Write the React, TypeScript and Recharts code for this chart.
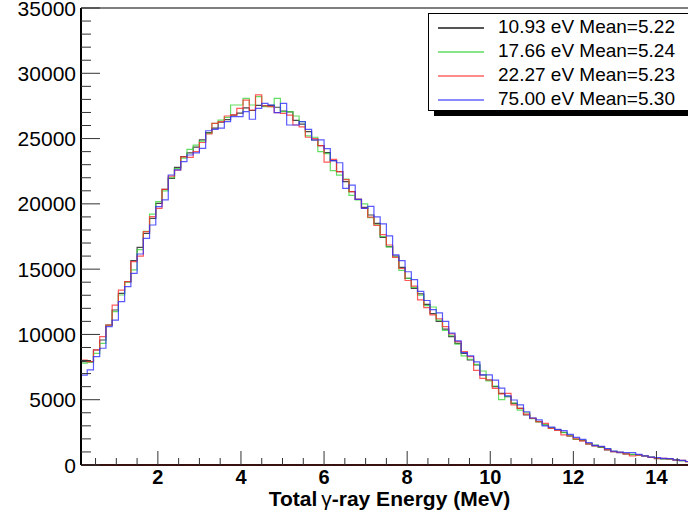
import { LineChart, Line, XAxis, YAxis, ReferenceLine } from "recharts";

// histogram binning: 0.15 MeV wide bins, first shown edge at 0.15 MeV
const BIN_WIDTH = 0.15;
const FIRST_EDGE = 0.15;
const X_MAX = 15;

// counts per bin
const counts1093 = [
  7915, 7915, 8808, 9574, 10723, 11872, 13148, 14042, 15650, 16670,
  17743, 18892, 20041, 21113, 21956, 22797, 23615, 23900, 24350, 24900,
  25450, 25800, 26250, 26450, 26800, 26950, 27350, 27150, 27550, 27500,
  27550, 27400, 27100, 27050, 26400, 26100, 25530, 24892, 24458, 23922,
  23309, 22466, 21700, 20934, 20347, 19734, 19148, 18510, 17438, 16722,
  16007, 15139, 14297, 13531, 13100, 12300, 11600, 11000, 10400, 9829,
  9319, 8553, 8042, 7659, 6893, 6510, 5999, 5489, 5233, 4723,
  4340, 3830, 3574, 3319, 3064, 2850, 2680, 2500, 2221, 1966,
  1864, 1608, 1455, 1353, 1149, 1021, 945, 843, 800, 766,
  689, 587, 485, 470, 460, 383, 332, 255, 230,
];

const counts1766 = [
  7800, 7850, 8550, 9320, 10700, 11750, 13020, 14000, 14940, 16500,
  17900, 19220, 20170, 21000, 22000, 22700, 23500, 24180, 24500, 24800,
  25400, 26170, 26420, 26630, 27570, 27570, 28080, 27570, 28210, 27450,
  27450, 28080, 27060, 27060, 26730, 26300, 25200, 25100, 24000, 23850,
  22550, 22200, 21900, 20650, 20300, 20000, 18950, 18400, 17500, 16700,
  15950, 14900, 14300, 13600, 13000, 12200, 12100, 11100, 10300, 9900,
  9250, 8350, 8100, 7700, 7200, 6450, 6050, 5000, 5250, 4750,
  4200, 4000, 3550, 3300, 3100, 2850, 2700, 2480, 2250, 1970,
  1900, 1640, 1530, 1370, 1250, 1050, 960, 870, 820, 760,
  690, 600, 500, 480, 440, 390, 340, 270, 230,
];

const counts2227 = [
  8040, 7915, 8810, 9830, 10720, 12250, 13400, 14040, 15570, 16000,
  17870, 19020, 19660, 21110, 22130, 22590, 23600, 23560, 24000, 24700,
  25350, 26170, 26300, 26730, 26810, 27320, 27950, 27190, 28340, 27500,
  27450, 26990, 26930, 26800, 26040, 25900, 25100, 25000, 24460, 23200,
  23400, 22470, 21850, 20930, 20350, 19650, 18980, 18350, 17650, 16850,
  15900, 15050, 14130, 13700, 12650, 12060, 11500, 11200, 10600, 10040,
  9450, 8680, 8300, 7240, 6640, 6510, 5870, 5450, 5490, 4600,
  4340, 3900, 3570, 3320, 3190, 2800, 2650, 2300, 2220, 2000,
  1850, 1620, 1480, 1400, 1180, 1030, 960, 850, 690, 750,
  690, 590, 500, 510, 470, 380, 350, 260, 240,
];

const counts7500 = [
  6890, 7280, 8300, 8940, 10600, 11100, 12510, 13660, 14680, 16160,
  17360, 18380, 19790, 20300, 22210, 22600, 23230, 23740, 23900, 24250,
  25600, 25700, 25800, 26300, 26680, 26680, 27060, 26480, 27320, 27700,
  27570, 26990, 27700, 26040, 26040, 26300, 25700, 24890, 24900, 24230,
  23310, 23150, 21180, 21440, 20350, 19650, 19800, 19000, 18460, 17550,
  16100, 15650, 14800, 14200, 13300, 12600, 11900, 11650, 11000, 10100,
  9500, 8600, 8350, 7900, 6900, 6900, 6500, 5880, 5300, 4980,
  4600, 4080, 3600, 3450, 2990, 2900, 2730, 2630, 2350, 2120,
  1970, 1710, 1500, 1420, 1250, 1070, 980, 945, 945, 820,
  700, 610, 560, 500, 490, 400, 350, 270, 240,
];

const SERIES = [
  { key: "e1093", label: "10.93 eV Mean=5.22", color: "#1a1a1a", swatch: "#555555", values: counts1093 },
  { key: "e1766", label: "17.66 eV Mean=5.24", color: "#3cd63c", swatch: "#88e488", values: counts1766 },
  { key: "e2227", label: "22.27 eV Mean=5.23", color: "#ff3030", swatch: "#ff8a8a", values: counts2227 },
  { key: "e7500", label: "75.00 eV Mean=5.30", color: "#3030ff", swatch: "#8a8aff", values: counts7500 },
];

const X_TICKS = [
  0.5, 1, 1.5, 2, 2.5, 3, 3.5, 4, 4.5, 5, 5.5, 6, 6.5, 7, 7.5, 8, 8.5, 9, 9.5,
  10, 10.5, 11, 11.5, 12, 12.5, 13, 13.5, 14, 14.5,
];
const Y_TICKS = [
  0, 1000, 2000, 3000, 4000, 5000, 6000, 7000, 8000, 9000, 10000, 11000,
  12000, 13000, 14000, 15000, 16000, 17000, 18000, 19000, 20000, 21000,
  22000, 23000, 24000, 25000, 26000, 27000, 28000, 29000, 30000, 31000,
  32000, 33000, 34000, 35000,
];

// step-histogram rows: start at 0 on the left edge, one row per bin edge
const data: Record<string, number>[] = [];
const first: Record<string, number> = { x: FIRST_EDGE };
SERIES.forEach((s) => (first[s.key] = 0));
data.push(first);
counts1093.forEach((_, i) => {
  const row: Record<string, number> = { x: FIRST_EDGE + i * BIN_WIDTH };
  SERIES.forEach((s) => (row[s.key] = s.values[i]));
  data.push(row);
});
const last: Record<string, number> = { x: X_MAX };
SERIES.forEach((s) => (last[s.key] = s.values[s.values.length - 1]));
data.push(last);

const FONT = "'Liberation Sans', Arial, Helvetica, sans-serif";

const XTick = (props: any) => {
  const { x, y, payload } = props;
  const v = payload.value;
  const major = v % 2 === 0;
  return (
    <g>
      <line x1={x} x2={x} y1={y} y2={y - (major ? 14 : 7)} stroke="#333" />
      {major && (
        <text x={x} y={y + 19} textAnchor="middle" fontSize={20} fontWeight="bold" fill="#000" fontFamily={FONT}>
          {v}
        </text>
      )}
    </g>
  );
};

const YTick = (props: any) => {
  const { x, y, payload } = props;
  const v = payload.value;
  const major = v % 5000 === 0;
  return (
    <g>
      <line x1={x} x2={x + (major ? 19 : 10)} y1={y} y2={y} stroke="#333" />
      {major && (
        <text x={x - 5} y={y} dy="0.36em" textAnchor="end" fontSize={21} fill="#000" fontFamily={FONT}>
          {v}
        </text>
      )}
    </g>
  );
};

const AxisTitle = (props: any) => {
  const vb = props.viewBox || { x: 81, y: 465, width: 617 };
  return (
    <text x={vb.x + vb.width / 2} y={vb.y + 41} textAnchor="middle" fontSize={21} fill="#000" fontFamily={FONT}>
      <tspan fontWeight="bold">Total</tspan>
      <tspan dx={4}>γ</tspan>
      <tspan fontWeight="bold">-ray Energy (MeV)</tspan>
    </text>
  );
};

export default function App() {
  return (
    <div
      style={{
        position: "absolute",
        left: 0,
        top: 0,
        width: 688,
        height: 513,
        overflow: "hidden",
        background: "#fff",
        fontFamily: FONT,
      }}
    >
      <LineChart width={700} height={513} data={data} margin={{ top: 8, right: 2, left: 0, bottom: 0 }}>
        <XAxis
          dataKey="x"
          type="number"
          domain={[FIRST_EDGE, X_MAX]}
          allowDataOverflow
          ticks={X_TICKS}
          interval={0}
          tick={<XTick />}
          tickLine={false}
          tickSize={0}
          tickMargin={0}
          height={48}
          axisLine={{ stroke: "#000", strokeWidth: 1.5 }}
          label={{ content: AxisTitle }}
        />
        <YAxis
          type="number"
          domain={[0, 35000]}
          allowDataOverflow
          ticks={Y_TICKS}
          interval={0}
          tick={<YTick />}
          tickLine={false}
          tickSize={0}
          tickMargin={0}
          width={81}
          axisLine={{ stroke: "#000", strokeWidth: 2 }}
        />
        <ReferenceLine y={35000} stroke="#000" strokeWidth={1} />
        {SERIES.map((s) => (
          <Line
            key={s.key}
            dataKey={s.key}
            type="stepAfter"
            stroke={s.color}
            strokeWidth={1.2}
            strokeOpacity={0.8}
            dot={false}
            activeDot={false}
            isAnimationActive={false}
          />
        ))}
        <ReferenceLine y={0} stroke="#d00000" strokeWidth={1.5} />
      </LineChart>
      <div
        style={{
          position: "absolute",
          left: 428,
          top: 13,
          width: 280,
          height: 95,
          border: "1px solid #000",
          background: "#fff",
          boxShadow: "6px 5px 0 #000",
          paddingTop: 1,
        }}
      >
        {SERIES.map((s) => (
          <div key={s.key} style={{ position: "relative", height: 24 }}>
            <div
              style={{
                position: "absolute",
                left: 9,
                top: 12,
                width: 46,
                height: 2,
                background: s.swatch,
              }}
            />
            <div
              style={{
                position: "absolute",
                left: 69,
                top: 0,
                lineHeight: "24px",
                fontSize: 19,
                color: "#000",
                whiteSpace: "nowrap",
              }}
            >
              {s.label}
            </div>
          </div>
        ))}
      </div>
    </div>
  );
}
